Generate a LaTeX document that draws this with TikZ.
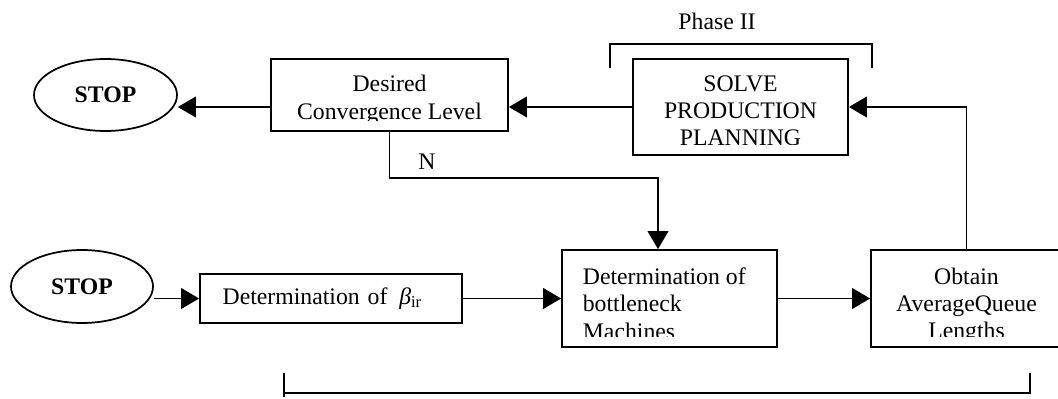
\documentclass[tikz,border=0pt]{standalone}
\usepackage{fontspec}
\setmainfont{Liberation Serif}
\usetikzlibrary{shapes.geometric, arrows.meta}

\newcommand{\diagfont}{\fontsize{17.8}{20.3}\selectfont}

\tikzset{
  box/.style={draw, rectangle, line width=1.3pt, inner sep=0pt},
  oval/.style={draw, ellipse, line width=1.3pt, inner sep=0pt, font=\diagfont\bfseries},
  arr/.style={line width=1.3pt, -{Triangle[length=13.5pt,width=15.5pt]}},
  inbox/.style={draw=none, minimum size=0pt, inner sep=0pt},
  ctext/.style 2 args={path picture={
      \clip (path picture bounding box.north west) rectangle ([yshift=8pt]path picture bounding box.south east);
      \node[inbox, anchor=north, align=center] at ([yshift=-#1]path picture bounding box.north) {#2};}},
  ltext/.style 2 args={path picture={
      \clip (path picture bounding box.north west) rectangle ([yshift=8pt]path picture bounding box.south east);
      \node[inbox, anchor=north west, align=left] at ([xshift=15pt,yshift=-#1]path picture bounding box.north west) {#2};}},
}

\begin{document}
\begin{tikzpicture}[x=0.75pt, y=-0.75pt, font=\diagfont]
    \clip (0,0) rectangle (1058,399);

    % upper row
    \node[oval, minimum width=107.25pt, minimum height=54pt] (stopA) at (105.5,95) {STOP};
    \node[box, minimum width=177.75pt, minimum height=54pt,
          ctext={11.75pt}{Desired\\Convergence Level}] (desired) at (389.5,95) {};
    \node[box, minimum width=161.25pt, minimum height=72pt,
          ctext={12pt}{SOLVE\\PRODUCTION\\PLANNING}] (solve) at (740.5,107) {};
    \draw[line width=1.3pt] (610,68) -- (610,44) -- (872,44) -- (872,68);
    \node (phase) at (717,21) {Phase II};

    % lower row
    \node[oval, minimum width=106.5pt, minimum height=54.75pt] (stopB) at (82,286.5) {STOP};
    \node[box, minimum height=36.75pt, text width=162.5pt, inner xsep=17pt, align=left]
          (beta) at (331,298.5) {Determination of\ \,\textit{β}\textsubscript{ir}};
    \node[box, minimum width=161.25pt, minimum height=72.75pt,
          ltext={13pt}{Determination of\\bottleneck\\Machines}] (bneck) at (669.5,298.5) {};
    \node[box, minimum width=143.25pt, minimum height=72.75pt,
          ctext={13pt}{Obtain\\AverageQueue\\Lengths}] (obtain) at (966.5,298.5) {};

    % connectors
    \coordinate (dout) at ([yshift=-9pt]desired.west);
    \draw[arr] (dout) -- (dout -| stopA.east);
    \draw[arr] (solve.west) -- (solve.west -| desired.east);
    \draw[arr] (obtain.north) |- (solve.east);
    \coordinate (nbend) at (658,178);
    \draw[arr] (desired.south) |- (nbend) -- (nbend |- bneck.north);
    \node (nlabel) at (427,162) {N};
    \draw[arr] (beta.west -| stopB.east) -- (beta.west);
    \draw[arr] (beta.east) -- (bneck.west);
    \draw[arr] (bneck.east) -- (obtain.west);

    % phase bracket below
    \draw[line width=1.3pt] (284,373) -- (284,397);
    \draw[line width=1.3pt] (284,393) -- (1030,393) -- (1030,373);
\end{tikzpicture}
\end{document}
